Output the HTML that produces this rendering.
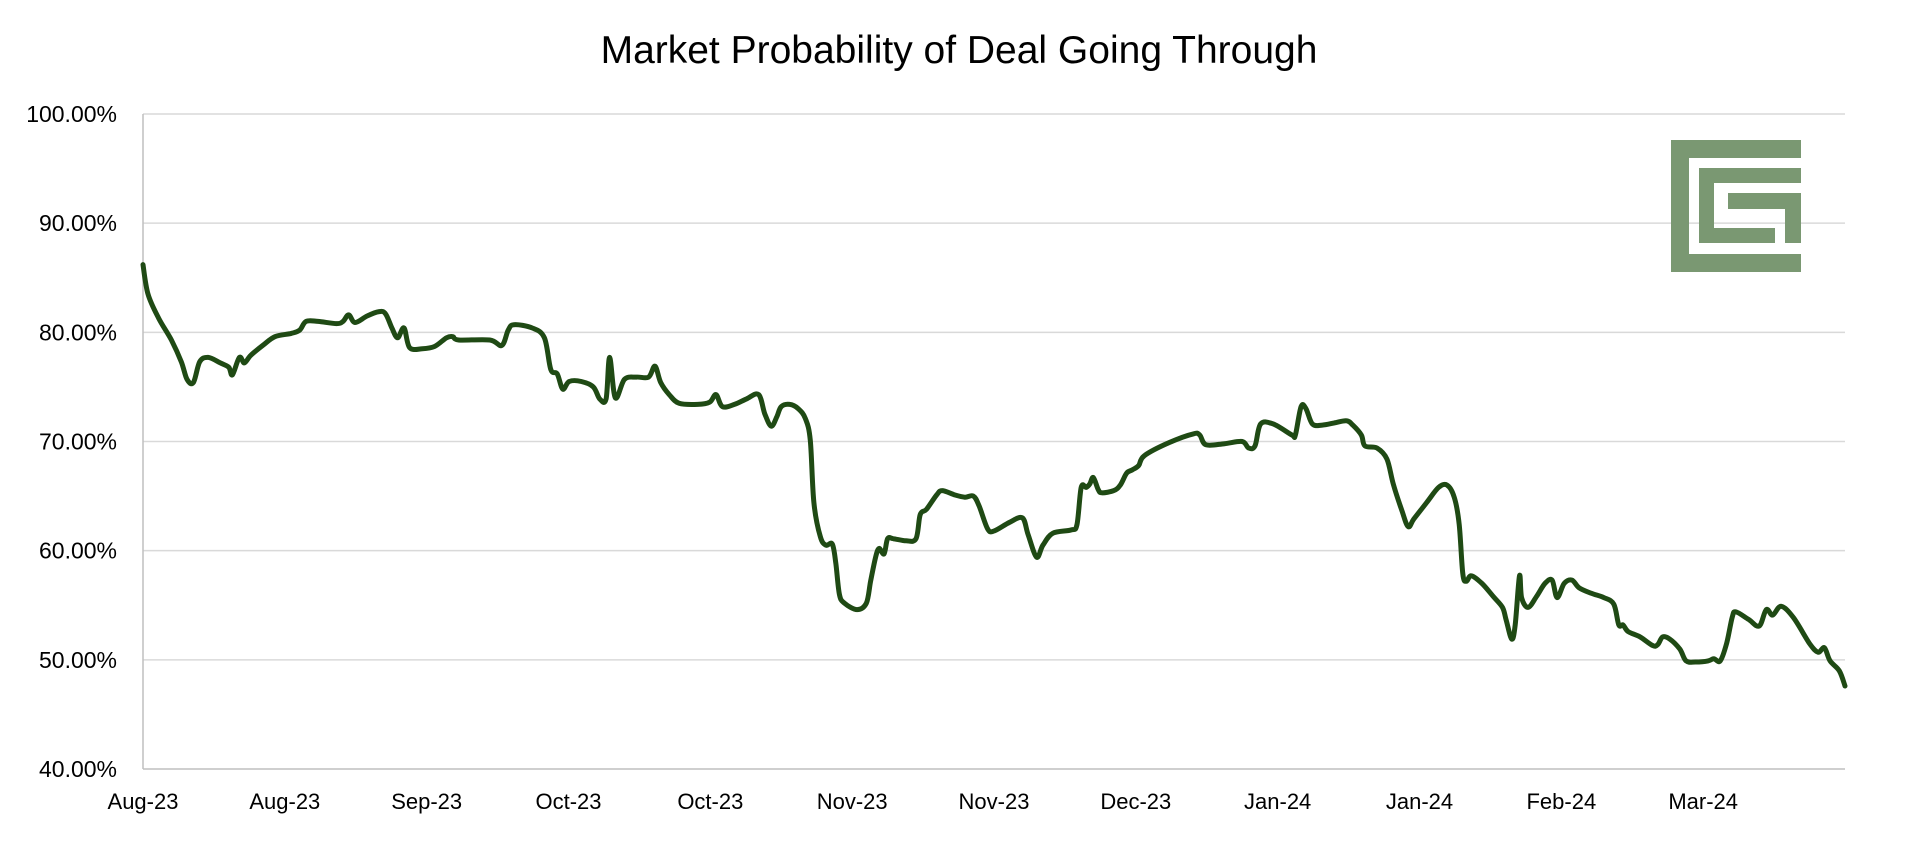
<!DOCTYPE html>
<html><head><meta charset="utf-8"><style>
html,body{margin:0;padding:0;background:#fff;}
svg{display:block;font-family:"Liberation Sans",sans-serif;}
</style></head><body>
<svg id="chart" width="1920" height="842" viewBox="0 0 1920 842">
<text x="959" y="63" text-anchor="middle" font-size="39" fill="#000" font-family="Liberation Sans, sans-serif">Market Probability of Deal Going Through</text>
<g id="grid"></g>
<g id="logo" fill="#7a9872">
<rect x="1671" y="140" width="130" height="18"/>
<rect x="1671" y="140" width="18" height="132"/>
<rect x="1671" y="254" width="130" height="18"/>
<rect x="1699" y="168" width="102" height="15"/>
<rect x="1699" y="168" width="15" height="75"/>
<rect x="1699" y="228" width="76" height="15"/>
<rect x="1728" y="193" width="73" height="16"/>
<rect x="1785" y="193" width="16" height="50"/>
</g>
<g id="yaxis"></g>
<g id="xaxis"></g>
<path id="line" fill="none" stroke="#1f4a14" stroke-width="5" stroke-linejoin="round" stroke-linecap="round"/>
</svg>
<script>
const dayOffsets=[0,0.7,2.2,4,5.4,6.2,7.1,8,9.2,10.9,12.1,12.6,13.6,14.3,15.2,16.9,18.6,20.9,22.1,23,24.7,27.3,28.2,29,29.9,31.6,33.3,34.2,35.1,35.9,36.8,37.6,39.4,41.1,42.8,43.7,44.5,48.9,50.6,51.5,52.3,54.9,56.6,57.5,58.4,59.2,60.1,61.8,63.5,64.4,65.3,65.8,66.6,67.9,69.6,71.3,72.2,73,74.2,75.6,78.2,79.9,80.8,81.7,83.4,85.1,86.8,87.7,88.6,89.4,90,91.2,92.4,93.4,94.1,94.6,95.5,96.3,97.2,97.7,98.2,98.9,100.7,102,102.6,103.3,103.8,104.5,105,105.8,107.6,109,109.6,110.5,111.9,112.7,114.5,115.9,117.1,117.9,119.1,120,122.2,124,124.8,126,126.9,128.3,130.9,131.7,132.3,133,133.5,134,134.7,135.2,136.9,137.8,138.7,139.5,140.4,141.2,144.7,148.1,149,149.9,152.5,155,155.9,156.8,157.6,159.4,162,162.5,163.3,164,164.9,166.3,168,169.7,170.6,171.8,172.3,174,175.4,176.3,177.5,178.4,179.2,181,182.7,183.9,184.9,185.6,186.1,186.6,187.3,188.8,190.4,191.7,192.2,193,193.5,194.1,194.4,195.3,196.5,197.7,198.7,199.4,200.4,201.5,202.5,204.2,206,207.4,208.1,208.7,209.4,211.1,212.9,213.6,214.3,215.3,216.7,217.6,218.9,220.7,221.5,222.4,223.3,224.1,224.6,226.4,227.9,228.9,229.8,231,232.7,235,236.2,237.1,237.9,239.2,240];
const probValues=[86.2,83.5,81.3,79.3,77.3,75.7,75.4,77.3,77.7,77.2,76.8,76.1,77.7,77.2,77.9,78.8,79.6,79.9,80.2,81.0,81.0,80.8,81.0,81.6,80.9,81.5,81.9,81.7,80.4,79.5,80.4,78.6,78.5,78.7,79.5,79.6,79.3,79.3,78.8,80.2,80.7,80.4,79.5,76.6,76.2,74.8,75.5,75.5,75.0,73.9,73.9,77.7,74.0,75.7,75.9,75.9,76.9,75.4,74.3,73.5,73.4,73.6,74.3,73.2,73.4,73.9,74.3,72.5,71.4,72.3,73.2,73.4,73.0,72.1,70.1,64.4,61.3,60.5,60.6,58.8,56.0,55.2,54.6,55.2,57.2,59.4,60.2,59.7,61.1,61.1,60.9,61.1,63.3,63.8,65.1,65.5,65.1,64.9,65.0,64.1,62.0,61.8,62.6,63.0,61.5,59.4,60.5,61.6,61.9,62.4,65.8,65.8,66.1,66.7,65.6,65.3,65.5,66.0,67.1,67.4,67.8,68.7,69.9,70.7,70.6,69.7,69.8,70.0,69.4,69.6,71.6,71.6,70.6,70.6,73.2,73.0,71.6,71.5,71.7,71.9,71.5,70.6,69.6,69.4,68.4,66.1,63.7,62.2,62.9,64.4,65.8,66.0,64.9,62.4,57.9,57.2,57.7,57.0,55.8,54.8,53.7,51.9,53.2,57.7,55.7,54.8,55.8,57.0,57.3,55.7,57.0,57.3,56.6,56.1,55.7,55.1,53.2,53.2,52.6,52.1,51.3,51.4,52.1,51.9,50.99,49.9,49.8,49.9,50.1,49.9,51.5,53.9,54.4,53.7,53.1,54.6,54.1,54.9,53.9,51.5,50.7,51.1,49.9,49.0,47.6];
const yTicks=[40,50,60,70,80,90,100];
const yTickLabels=["40.00%","50.00%","60.00%","70.00%","80.00%","90.00%","100.00%"];
const xTickDays=[0,20,40,60,80,100,120,140,160,180,200,220];
const xTickLabels=["Aug-23","Aug-23","Sep-23","Oct-23","Oct-23","Nov-23","Nov-23","Dec-23","Jan-24","Jan-24","Feb-24","Mar-24"];

const L=143,R=1845,T=114,B=769,ns="http://www.w3.org/2000/svg";
function xs(d){return L+(d-0)/240*(R-L);}
function ys(v){return B-(v-40)/60*(B-T);}
const grid=document.getElementById('grid'),ya=document.getElementById('yaxis'),xa=document.getElementById('xaxis');
yTicks.forEach((t,i)=>{
  const ln=document.createElementNS(ns,'line');
  
  
  ln.setAttribute('x1',L);ln.setAttribute('x2',R);ln.setAttribute('y1',ys(t));ln.setAttribute('y2',ys(t));
  ln.setAttribute('stroke',i===0?'#bfbfbf':'#d9d9d9');ln.setAttribute('stroke-width','1.5');
  grid.appendChild(ln);
  const tx=document.createElementNS(ns,'text');
  
  
  tx.setAttribute('x',L-26);tx.setAttribute('y',ys(t)+8);tx.setAttribute('text-anchor','end');
  tx.setAttribute('font-size','23');tx.textContent=yTickLabels[i];
  ya.appendChild(tx);
});
const ax=document.createElementNS(ns,'line');


ax.setAttribute('x1',L);ax.setAttribute('x2',L);ax.setAttribute('y1',T);ax.setAttribute('y2',B);
ax.setAttribute('stroke','#bfbfbf');ax.setAttribute('stroke-width','1.5');
grid.appendChild(ax);
xTickDays.forEach((d,i)=>{
  const tx=document.createElementNS(ns,'text');
  
  
  tx.setAttribute('x',xs(d));tx.setAttribute('y',B+40);tx.setAttribute('text-anchor','middle');
  tx.setAttribute('font-size','22');tx.textContent=xTickLabels[i];
  xa.appendChild(tx);
});
const pts=dayOffsets.map((d,i)=>[xs(d),ys(probValues[i])]);
let p='M'+pts[0][0].toFixed(1)+','+pts[0][1].toFixed(1);
for(let i=0;i<pts.length-1;i++){
  const p0=pts[Math.max(0,i-1)],p1=pts[i],p2=pts[i+1],p3=pts[Math.min(pts.length-1,i+2)];
  const c1=[p1[0]+(p2[0]-p0[0])/6,p1[1]+(p2[1]-p0[1])/6],c2=[p2[0]-(p3[0]-p1[0])/6,p2[1]-(p3[1]-p1[1])/6];
  p+=' C'+c1[0].toFixed(1)+','+c1[1].toFixed(1)+' '+c2[0].toFixed(1)+','+c2[1].toFixed(1)+' '+p2[0].toFixed(1)+','+p2[1].toFixed(1);
}
document.getElementById('line').setAttribute('d',p);
</script>
</body></html>
